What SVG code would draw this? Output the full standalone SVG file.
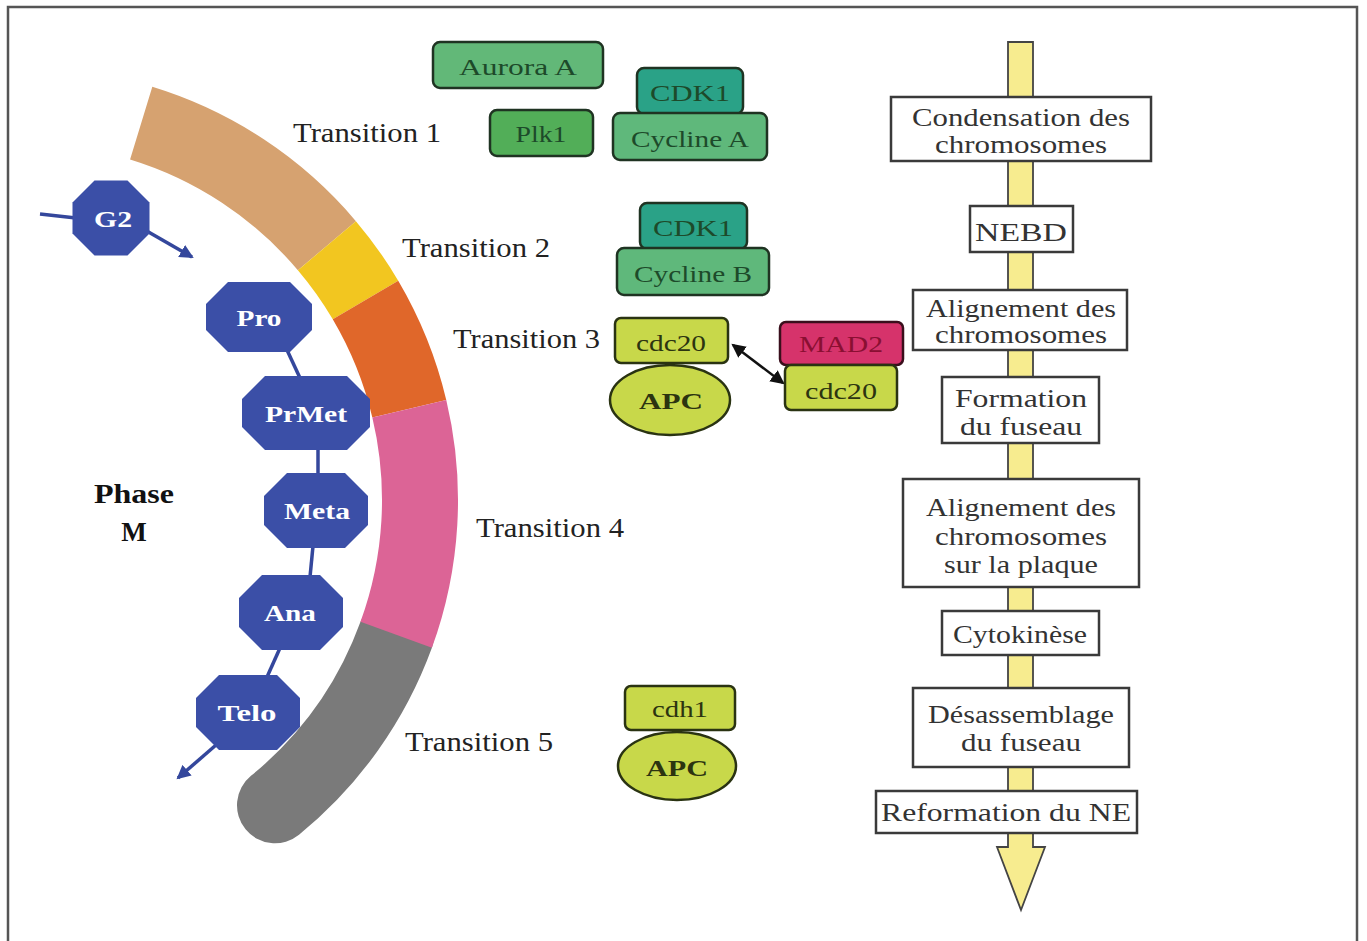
<svg xmlns="http://www.w3.org/2000/svg" width="1367" height="941" viewBox="0 0 1367 941">
<style>
.lbl{font-family:"Liberation Serif",serif;font-size:27px;fill:#222}
.oct{fill:#3b4fa7}
.octt{font-family:"Liberation Serif",serif;font-size:24px;font-weight:bold;fill:#fff;text-anchor:middle}
.gb{stroke:#1f3322;stroke-width:2.5}
.gt{font-family:"Liberation Serif",serif;font-size:24px;fill:#1d4a2a;text-anchor:middle}
.yg{fill:#c8d84a;stroke:#2a3312;stroke-width:2.5}
.ygt{font-family:"Liberation Serif",serif;font-size:24px;fill:#2c3410;text-anchor:middle}
.box{fill:#fff;stroke:#3a3a3a;stroke-width:2.5}
.bt{font-family:"Liberation Serif",serif;font-size:25px;fill:#333;text-anchor:middle}
.blue{stroke:#34479c;stroke-width:3.5;fill:none}
</style>
<defs>
<marker id="ab" markerUnits="userSpaceOnUse" markerWidth="16" markerHeight="14" refX="12" refY="7" orient="auto">
<path d="M0,0 L14,7 L0,14 z" fill="#34479c"/>
</marker>
<marker id="ak" markerUnits="userSpaceOnUse" markerWidth="16" markerHeight="14" refX="12" refY="7" orient="auto-start-reverse">
<path d="M0,0 L14,7 L0,14 z" fill="#111"/>
</marker>
</defs>
<rect x="0" y="0" width="1367" height="941" fill="#fff"/>
<rect x="8" y="7" width="1349" height="945" fill="#fff" stroke="#555" stroke-width="2.5"/>

<g id="arc">
<path d="M396.2,634.8 A394,394 0 0 1 275,805.3" fill="none" stroke="#7a7a7a" stroke-width="76" stroke-linecap="round"/>
<path d="M141.2,123.2 A394,394 0 0 1 326.9,245.7" fill="none" stroke="#d6a270" stroke-width="76"/>
<path d="M326.9,245.7 A394,394 0 0 1 365.5,300" fill="none" stroke="#f2c620" stroke-width="76"/>
<path d="M365.5,300 A394,394 0 0 1 409.3,408.7" fill="none" stroke="#e0672a" stroke-width="76"/>
<path d="M409.3,408.7 A394,394 0 0 1 396.2,634.8" fill="none" stroke="#dc6496" stroke-width="76"/>
</g>

<g id="connectors">
<line x1="40" y1="214" x2="76" y2="218" class="blue"/>
<line x1="145" y1="230" x2="192" y2="257" class="blue" marker-end="url(#ab)"/>
<line x1="287" y1="350" x2="300" y2="378" class="blue"/>
<line x1="318" y1="448" x2="318" y2="475" class="blue"/>
<line x1="313" y1="546" x2="310" y2="577" class="blue"/>
<line x1="280" y1="648" x2="267" y2="677" class="blue"/>
<line x1="216" y1="745" x2="178" y2="778" class="blue" marker-end="url(#ab)"/>
<line x1="733" y1="345" x2="783" y2="383" stroke="#111" stroke-width="2.5" marker-start="url(#ak)" marker-end="url(#ak)"/>
<path d="M1008,42 L1033,42 L1033,847 L1045,847 L1021,910 L997,847 L1008,847 Z" fill="#f7ec8f" stroke="#444" stroke-width="1.8"/>
</g>

<g id="phases">
<g id="g2"><polygon class="oct" points="94.5,180.5 127.5,180.5 149.5,202.5 149.5,233.5 127.5,255.5 94.5,255.5 72.5,233.5 72.5,202.5"/><text class="octt" x="113" y="227" textLength="38" lengthAdjust="spacingAndGlyphs">G2</text></g>
<g id="pro"><polygon class="oct" points="228,282 290,282 312,304 312,330 290,352 228,352 206,330 206,304"/><text class="octt" x="259" y="326" textLength="45" lengthAdjust="spacingAndGlyphs">Pro</text></g>
<g id="prmet"><polygon class="oct" points="265,376 347,376 370,399 370,427 347,450 265,450 242,427 242,399"/><text class="octt" x="306" y="422" textLength="82" lengthAdjust="spacingAndGlyphs">PrMet</text></g>
<g id="meta"><polygon class="oct" points="287,473 345,473 368,496 368,525 345,548 287,548 264,525 264,496"/><text class="octt" x="317" y="519" textLength="66" lengthAdjust="spacingAndGlyphs">Meta</text></g>
<g id="ana"><polygon class="oct" points="262,575 320,575 343,598 343,627 320,650 262,650 239,627 239,598"/><text class="octt" x="290" y="621" textLength="52" lengthAdjust="spacingAndGlyphs">Ana</text></g>
<g id="telo"><polygon class="oct" points="219,675 277,675 300,698 300,727 277,750 219,750 196,727 196,698"/><text class="octt" x="247" y="721" textLength="59" lengthAdjust="spacingAndGlyphs">Telo</text></g>
</g>

<g id="phaseM">
<text x="134" y="503" font-family="Liberation Serif,serif" font-size="27" font-weight="bold" fill="#111" text-anchor="middle" textLength="80" lengthAdjust="spacingAndGlyphs">Phase</text>
<text x="134" y="541" font-family="Liberation Serif,serif" font-size="27" font-weight="bold" fill="#111" text-anchor="middle">M</text>
</g>

<g id="transitions">
<text class="lbl" x="293" y="142" textLength="148" lengthAdjust="spacingAndGlyphs">Transition 1</text>
<text class="lbl" x="402" y="257" textLength="148" lengthAdjust="spacingAndGlyphs">Transition 2</text>
<text class="lbl" x="453" y="348" textLength="147" lengthAdjust="spacingAndGlyphs">Transition 3</text>
<text class="lbl" x="476" y="537" textLength="148" lengthAdjust="spacingAndGlyphs">Transition 4</text>
<text class="lbl" x="405" y="751" textLength="148" lengthAdjust="spacingAndGlyphs">Transition 5</text>
</g>

<g id="auroraA"><rect class="gb" x="433" y="42" width="170" height="46" rx="7" fill="#62b878"/><text class="gt" x="518" y="75" textLength="118" lengthAdjust="spacingAndGlyphs">Aurora A</text></g>
<g id="plk1"><rect class="gb" x="490" y="110" width="103" height="46" rx="7" fill="#52ae58"/><text class="gt" x="541" y="142" textLength="51" lengthAdjust="spacingAndGlyphs">Plk1</text></g>
<g id="cdk1a"><rect class="gb" x="637" y="68" width="106" height="46" rx="7" fill="#2aa287"/><text class="gt" x="690" y="101" textLength="80" lengthAdjust="spacingAndGlyphs">CDK1</text></g>
<g id="cyclineA"><rect class="gb" x="613" y="113" width="154" height="47" rx="7" fill="#5fb87b"/><text class="gt" x="690" y="147" textLength="118" lengthAdjust="spacingAndGlyphs">Cycline A</text></g>
<g id="cdk1b"><rect class="gb" x="640" y="203" width="107" height="46" rx="7" fill="#2aa287"/><text class="gt" x="693" y="236" textLength="80" lengthAdjust="spacingAndGlyphs">CDK1</text></g>
<g id="cyclineB"><rect class="gb" x="617" y="248" width="152" height="47" rx="7" fill="#5fb87b"/><text class="gt" x="693" y="282" textLength="118" lengthAdjust="spacingAndGlyphs">Cycline B</text></g>

<g id="cdc20a"><rect class="yg" x="615" y="318" width="113" height="45" rx="6"/><text class="ygt" x="671" y="351" textLength="70" lengthAdjust="spacingAndGlyphs">cdc20</text></g>
<g id="apc1"><ellipse class="yg" cx="670" cy="400" rx="60" ry="35"/><text class="ygt" x="671" y="409" font-weight="bold" font-size="25" textLength="64" lengthAdjust="spacingAndGlyphs">APC</text></g>
<g id="mad2"><rect x="780" y="322" width="123" height="43" rx="6" fill="#d6336b" stroke="#3a0f1c" stroke-width="2.5"/><text x="841" y="352" font-family="Liberation Serif,serif" font-size="24" fill="#8a0f32" text-anchor="middle" textLength="84" lengthAdjust="spacingAndGlyphs">MAD2</text></g>
<g id="cdc20b"><rect class="yg" x="785" y="365" width="112" height="45" rx="6"/><text class="ygt" x="841" y="399" textLength="72" lengthAdjust="spacingAndGlyphs">cdc20</text></g>

<g id="cdh1"><rect class="yg" x="625" y="686" width="110" height="44" rx="6"/><text class="ygt" x="680" y="717" textLength="56" lengthAdjust="spacingAndGlyphs">cdh1</text></g>
<g id="apc2"><ellipse class="yg" cx="677" cy="766" rx="59" ry="34"/><text class="ygt" x="677" y="776" font-weight="bold" font-size="25" textLength="62" lengthAdjust="spacingAndGlyphs">APC</text></g>

<g id="condensation"><rect class="box" x="891" y="97" width="260" height="64"/><text class="bt" x="1021" y="126" textLength="218" lengthAdjust="spacingAndGlyphs">Condensation des</text><text class="bt" x="1021" y="153" textLength="172" lengthAdjust="spacingAndGlyphs">chromosomes</text></g>
<g id="nebd"><rect class="box" x="970" y="206" width="103" height="46"/><text class="bt" x="1021" y="241" textLength="92" lengthAdjust="spacingAndGlyphs">NEBD</text></g>
<g id="alignement1"><rect class="box" x="913" y="290" width="214" height="60"/><text class="bt" x="1021" y="317" textLength="190" lengthAdjust="spacingAndGlyphs">Alignement des</text><text class="bt" x="1021" y="343" textLength="172" lengthAdjust="spacingAndGlyphs">chromosomes</text></g>
<g id="formation"><rect class="box" x="942" y="377" width="157" height="66"/><text class="bt" x="1021" y="407" textLength="132" lengthAdjust="spacingAndGlyphs">Formation</text><text class="bt" x="1021" y="435" textLength="122" lengthAdjust="spacingAndGlyphs">du fuseau</text></g>
<g id="alignement2"><rect class="box" x="903" y="479" width="236" height="108"/><text class="bt" x="1021" y="516" textLength="190" lengthAdjust="spacingAndGlyphs">Alignement des</text><text class="bt" x="1021" y="545" textLength="172" lengthAdjust="spacingAndGlyphs">chromosomes</text><text class="bt" x="1021" y="573" textLength="154" lengthAdjust="spacingAndGlyphs">sur la plaque</text></g>
<g id="cytokinese"><rect class="box" x="942" y="611" width="157" height="44"/><text class="bt" x="1020" y="643" textLength="134" lengthAdjust="spacingAndGlyphs">Cytokinèse</text></g>
<g id="desassemblage"><rect class="box" x="913" y="688" width="216" height="79"/><text class="bt" x="1021" y="723" textLength="186" lengthAdjust="spacingAndGlyphs">Désassemblage</text><text class="bt" x="1021" y="751" textLength="120" lengthAdjust="spacingAndGlyphs">du fuseau</text></g>
<g id="reformation"><rect class="box" x="876" y="791" width="261" height="42"/><text class="bt" x="1006" y="821" textLength="250" lengthAdjust="spacingAndGlyphs">Reformation du NE</text></g>
</svg>
